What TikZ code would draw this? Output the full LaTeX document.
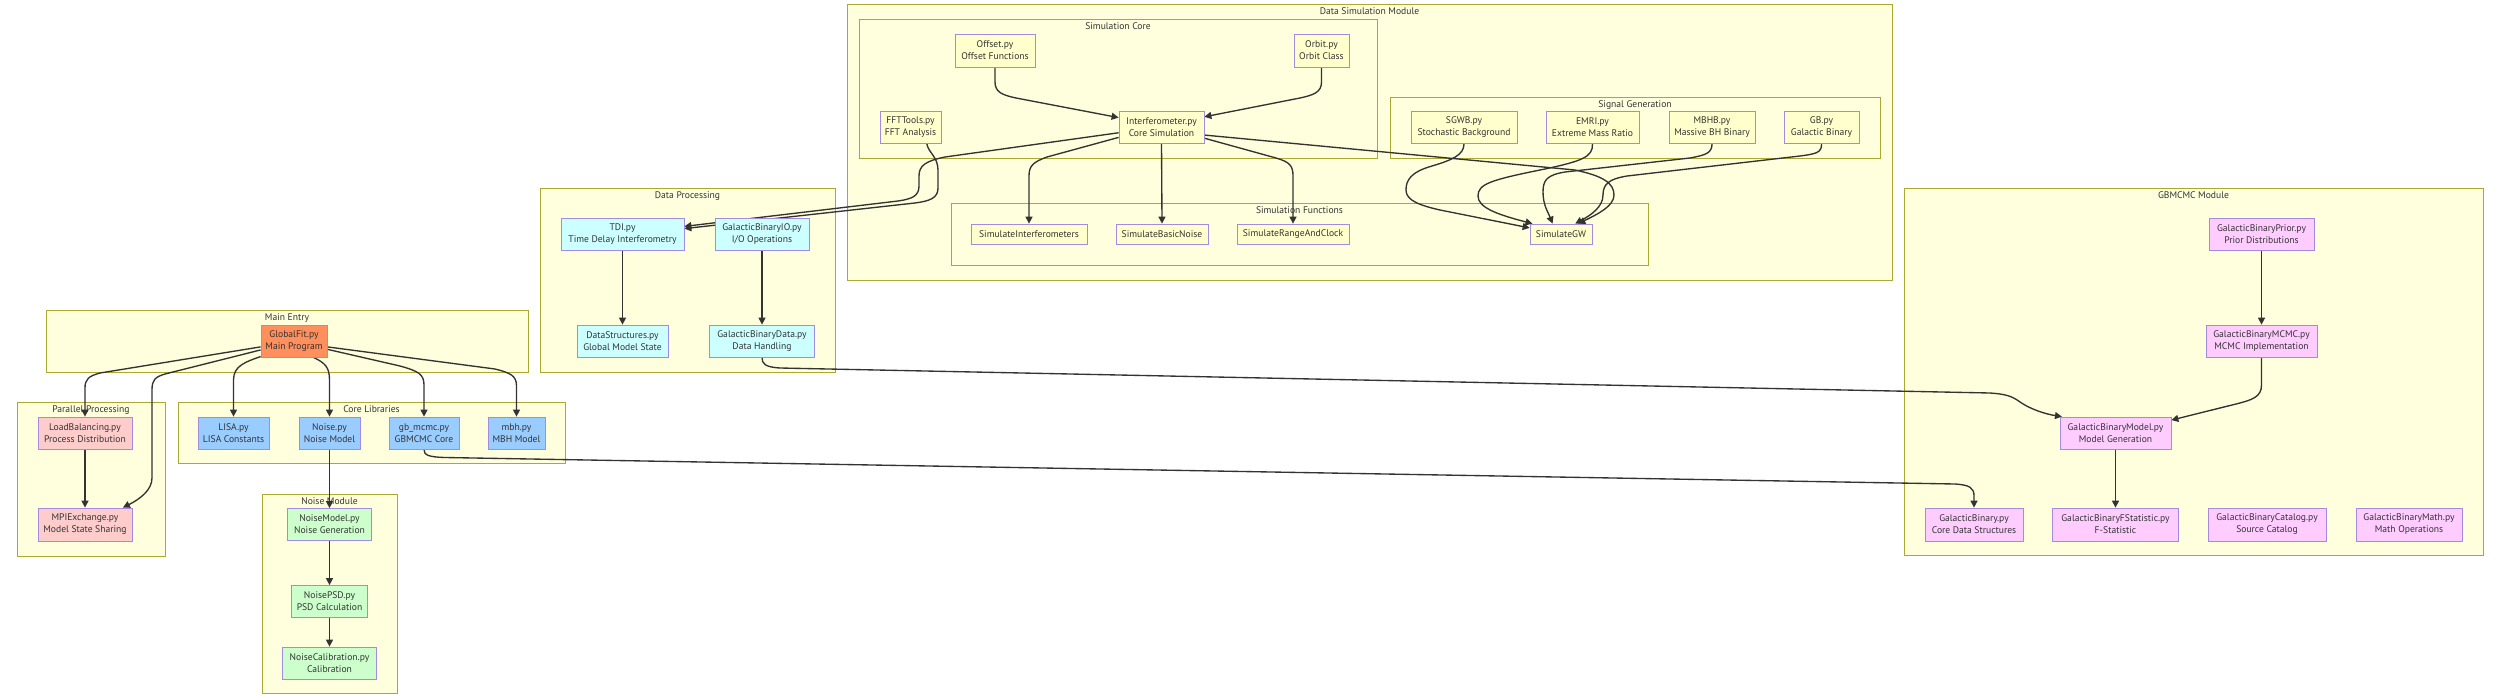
\documentclass[tikz,border=0pt]{standalone}
\usepackage{fontspec}
\setmainfont{PT Sans}
\usetikzlibrary{arrows.meta,calc}
\pgfdeclarelayer{clusters}
\pgfdeclarelayer{edges}
\pgfsetlayers{clusters,edges,main}
\definecolor{clfill}{HTML}{FFFFDE}
\definecolor{clline}{HTML}{AAAA33}
\definecolor{nline}{HTML}{A58BE0}
\definecolor{txt}{HTML}{333333}
\definecolor{ecol}{HTML}{333333}
\definecolor{simfill}{HTML}{FFFFCC}
\definecolor{dpfill}{HTML}{CCFFFF}
\definecolor{clibfill}{HTML}{99CCFF}
\definecolor{parfill}{HTML}{FFCCCC}
\definecolor{noisefill}{HTML}{CCFFCC}
\definecolor{gbfill}{HTML}{FFCCFF}
\definecolor{mainfill}{HTML}{FF8F5C}
\newcommand\mkcluster[6]{%
  \node[clus, minimum width={#4pt-#2pt}, minimum height={#5pt-#3pt}] (#1) at ({(#2+#4)/2},{(#3+#5)/2}) {};
  \node[clab] (#1-lab) at ({(#2+#4)/2},{#3+10.5}) {#6};}
\begin{document}
\begin{tikzpicture}[x=1pt,y=-1pt,
  box/.style={draw=nline, line width=0.75pt, rectangle, inner sep=0pt, align=center,
    font=\fontsize{9.6}{12}\selectfont, text=txt},
  sz/.style 2 args={minimum width=#1pt, minimum height=#2pt},
  sim/.style={box, fill=simfill},
  dp/.style={box, fill=dpfill},
  clib/.style={box, fill=clibfill},
  par/.style={box, fill=parfill},
  nse/.style={box, fill=noisefill},
  gbm/.style={box, fill=gbfill},
  mainbox/.style={box, fill=mainfill},
  clus/.style={draw=clline, fill=clfill, line width=0.8pt, inner sep=0pt, rectangle},
  clab/.style={font=\fontsize{9.6}{12}\selectfont, inner sep=0pt, anchor=base, text=txt},
  edge/.style={draw=ecol, line width=1.35pt, -{Triangle[length=7pt,width=7pt]}}
]
\useasboundingbox (0,0) rectangle (2500,699);

% ---------- clusters ----------
\begin{pgfonlayer}{clusters}
\mkcluster{cdatasim}{847}{4}{1892}{280}{Data Simulation Module}
\mkcluster{csimcore}{859}{19}{1377}{158}{Simulation Core}
\mkcluster{csiggen}{1390}{97}{1880}{158}{Signal Generation}
\mkcluster{csimfunc}{951}{203}{1648}{265}{Simulation Functions}
\mkcluster{cdataproc}{540}{188}{835}{372}{Data Processing}
\mkcluster{cmain}{46}{310}{528}{372}{Main Entry}
\mkcluster{cpar}{17}{402}{165}{556}{Parallel Processing}
\mkcluster{ccore}{178}{402}{565}{463}{Core Libraries}
\mkcluster{cnoise}{262}{494}{397}{693}{Noise Module}
\mkcluster{cgbmcmc}{1904}{188}{2483}{555}{GBMCMC Module}
\end{pgfonlayer}

% ---------- nodes ----------
\node[sim, sz={80}{33}] (offset) at (995,50.5) {Offset.py\\Offset Functions};
\node[sim, sz={55}{33}] (orbit) at (1321.5,50.5) {Orbit.py\\Orbit Class};
\node[sim, sz={61}{32}] (fft) at (910.5,127.5) {FFTTools.py\\FFT Analysis};
\node[sim, sz={85}{32}] (interf) at (1161.5,127.5) {Interferometer.py\\Core Simulation};
\node[sim, sz={106}{32}] (sgwb) at (1464,127.5) {SGWB.py\\Stochastic Background};
\node[sim, sz={93}{32}] (emri) at (1592.5,127.5) {EMRI.py\\Extreme Mass Ratio};
\node[sim, sz={86}{32}] (mbhb) at (1712,127.5) {MBHB.py\\Massive BH Binary};
\node[sim, sz={75}{32}] (gb) at (1821.5,127.5) {GB.py\\Galactic Binary};
\node[sim, sz={116}{20}] (simint) at (1029,234) {SimulateInterferometers};
\node[sim, sz={92}{20}] (simnoise) at (1162,234) {SimulateBasicNoise};
\node[sim, sz={112}{20}] (simrange) at (1293,234) {SimulateRangeAndClock};
\node[sim, sz={62}{20}] (simgw) at (1561,234) {SimulateGW};

\node[dp, sz={123}{32}] (tdi) at (622.5,234) {TDI.py\\Time Delay Interferometry};
\node[dp, sz={94}{32}] (gbio) at (762,234) {GalacticBinaryIO.py\\I/O Operations};
\node[dp, sz={91}{32}] (datastruct) at (622.5,341) {DataStructures.py\\Global Model State};
\node[dp, sz={105}{32}] (gbdata) at (762,341) {GalacticBinaryData.py\\Data Handling};

\node[mainbox, sz={66}{32}] (globalfit) at (294,341) {GlobalFit.py\\Main Program};

\node[par, sz={94}{32}] (loadbal) at (85,433) {LoadBalancing.py\\Process Distribution};
\node[par, sz={94}{33}] (mpi) at (85,524.5) {MPIExchange.py\\Model State Sharing};

\node[clib, sz={71}{32}] (lisa) at (233.5,433) {LISA.py\\LISA Constants};
\node[clib, sz={61}{32}] (noise) at (329.5,433) {Noise.py\\Noise Model};
\node[clib, sz={70}{32}] (gbmcmc) at (424,433) {gb\_mcmc.py\\GBMCMC Core};
\node[clib, sz={57}{32}] (mbh) at (516.5,433) {mbh.py\\MBH Model};

\node[nse, sz={84}{32}] (noisemodel) at (329.5,524.5) {NoiseModel.py\\Noise Generation};
\node[nse, sz={76}{32}] (noisepsd) at (329.5,601.5) {NoisePSD.py\\PSD Calculation};
\node[nse, sz={94}{32}] (noisecal) at (329.5,663) {NoiseCalibration.py\\Calibration};

\node[gbm, sz={105}{32}] (prior) at (2261.5,234) {GalacticBinaryPrior.py\\Prior Distributions};
\node[gbm, sz={111}{32}] (mcmc) at (2261.5,341) {GalacticBinaryMCMC.py\\MCMC Implementation};
\node[gbm, sz={111}{32}] (model) at (2115.5,433) {GalacticBinaryModel.py\\Model Generation};
\node[gbm, sz={98}{33}] (gbin) at (1974,524.5) {GalacticBinary.py\\Core Data Structures};
\node[gbm, sz={126}{33}] (fstat) at (2115.5,524.5) {GalacticBinaryFStatistic.py\\F-Statistic};
\node[gbm, sz={118}{33}] (catalog) at (2267,524.5) {GalacticBinaryCatalog.py\\Source Catalog};
\node[gbm, sz={106}{33}] (math) at (2409,524.5) {GalacticBinaryMath.py\\Math Operations};

% ---------- edges ----------
\begin{pgfonlayer}{edges}
% simulation core
\draw[edge] (offset.south) -- (995,82) .. controls (995,92) and (1002,95) .. (1016,98) -- (interf.167);
\draw[edge] (orbit.south) -- (1321.5,82) .. controls (1321.5,92) and (1314,95) .. (1300,98) -- (interf.14);
% to TDI
\draw[edge] (interf.187) -- (945,157) .. controls (925,161) and (919,166) .. (919,176) -- (919,186)
  .. controls (919,196) and (912,199) .. (898,201) -- (tdi.7);
\draw[edge] (fft.-45) .. controls (928,152) and (938,157) .. (938,170) -- (938,188)
  .. controls (938,198) and (930,201) .. (915,203) -- (tdi.5);
% simulation functions
\draw[edge] (interf.193) -- (1047,157) .. controls (1033,162) and (1029,166) .. (1029,176) -- (simint.north);
\draw[edge] (interf.south) -- (simnoise.north);
\draw[edge] (interf.-14) -- (1276,158) .. controls (1290,162) and (1293,166) .. (1293,176) -- (simrange.north);
\draw[edge] (interf.-10) -- (1575,170) .. controls (1603,176) and (1614,183) .. (1614,195)
  .. controls (1614,206) and (1598,214) .. (simgw.31);
% signal generation to SimulateGW
\draw[edge] (sgwb.south) .. controls (1464,155) and (1452,160) .. (1432,166)
  .. controls (1411,172) and (1406,180) .. (1406,190)
  .. controls (1406,200) and (1418,205) .. (1440,210) -- (simgw.169);
\draw[edge] (emri.south) .. controls (1593,157) and (1582,161) .. (1545,169)
  .. controls (1490,180) and (1478,184) .. (1478,196)
  .. controls (1478,207) and (1495,214) .. (simgw.160);
\draw[edge] (mbhb.south) .. controls (1712,153) and (1706,155) .. (1690,158) -- (1565,172)
  .. controls (1547,175) and (1543,180) .. (1543,192)
  .. controls (1543,205) and (1548,212) .. (simgw.129);
\draw[edge] (gb.south) .. controls (1822,153) and (1815,154) .. (1800,156) -- (1627,176)
  .. controls (1609,179) and (1603,184) .. (1603,195)
  .. controls (1603,207) and (1591,215) .. (simgw.36);
% data processing
\draw[edge] (tdi.south) -- (datastruct.north);
\draw[edge] (gbio.south) -- (gbdata.north);
\draw[edge] (gbdata.south) .. controls (762,364) and (765,367) .. (780,368) -- (1990,393)
  .. controls (2005,394) and (2012,396) .. (2020,402)
  .. controls (2030,409) and (2045,414) .. (model.163);
% main entry
\draw[edge] (globalfit.190) -- (100,373) .. controls (89,376) and (85,379) .. (85,388) -- (loadbal.north);
\draw[edge] (globalfit.195) -- (165,374) .. controls (155,377) and (152,380) .. (152,390) -- (152,478)
  .. controls (152,490) and (140,499) .. (mpi.24);
\draw[edge] (globalfit.205) .. controls (245,362) and (233.5,366) .. (233.5,380) -- (lisa.north);
\draw[edge] (globalfit.-40) .. controls (325,363) and (329.5,367) .. (329.5,380) -- (noise.north);
\draw[edge] (globalfit.-14) -- (400,366) .. controls (418,371) and (424,374) .. (424,385) -- (gbmcmc.north);
\draw[edge] (globalfit.-10) -- (495,369) .. controls (511,373) and (516.5,376) .. (516.5,386) -- (mbh.north);
% parallel
\draw[edge] (loadbal.south) -- (mpi.north);
% noise
\draw[edge] (noise.south) -- (noisemodel.north);
\draw[edge] (noisemodel.south) -- (noisepsd.north);
\draw[edge] (noisepsd.south) -- (noisecal.north);
% core lib to GBMCMC
\draw[edge] (gbmcmc.south) .. controls (424,455) and (428,457) .. (445,457.5) -- (1955,484)
  .. controls (1970,485) and (1974,488) .. (1974,496) -- (gbin.north);
% GBMCMC module
\draw[edge] (prior.south) -- (mcmc.north);
\draw[edge] (mcmc.south) -- (2261.5,385) .. controls (2261.5,397) and (2252,400) .. (2236,404) -- (model.13);
\draw[edge] (model.south) -- (fstat.north);
\end{pgfonlayer}
\end{tikzpicture}
\end{document}
